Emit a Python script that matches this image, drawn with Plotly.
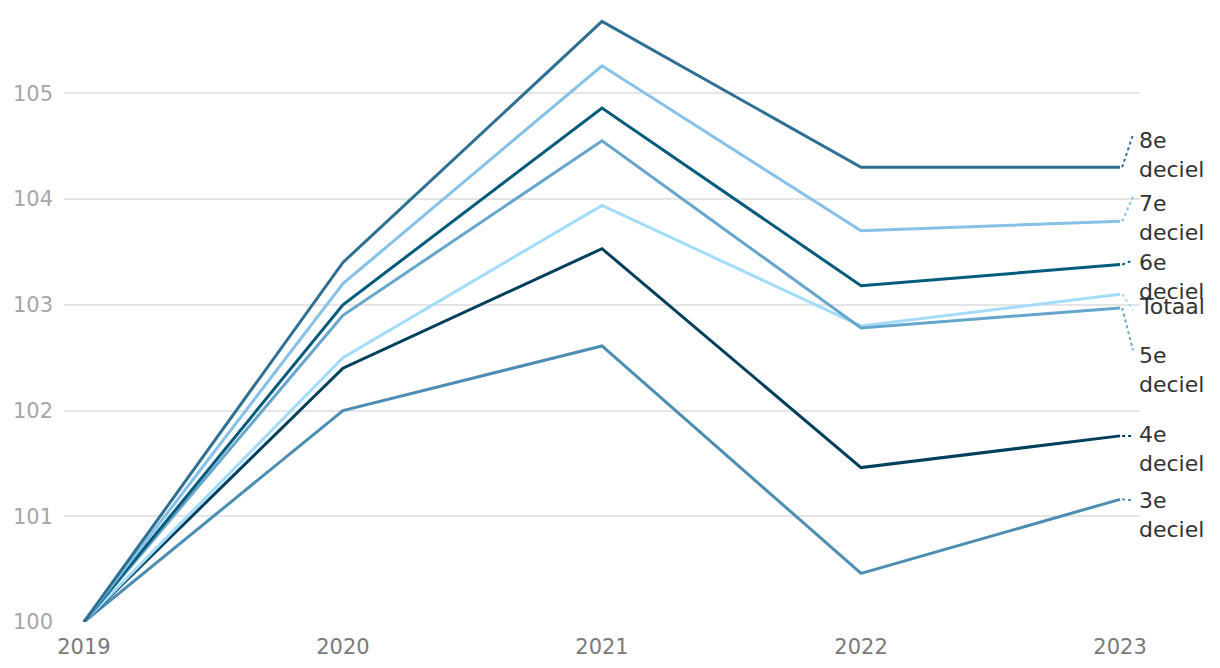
import plotly.graph_objects as go

years = [2019, 2020, 2021, 2022, 2023]

series_names = ["8e deciel", "7e deciel", "6e deciel", "5e deciel", "Totaal", "4e deciel", "3e deciel"]
label_texts = ["8e<br>deciel", "7e<br>deciel", "6e<br>deciel", "5e<br>deciel", "Totaal", "4e<br>deciel", "3e<br>deciel"]

d8 = [100, 103.40, 105.68, 104.30, 104.30]
d7 = [100, 103.20, 105.26, 103.70, 103.79]
d6 = [100, 103.00, 104.86, 103.18, 103.38]
d5 = [100, 102.90, 104.55, 102.78, 102.97]
totaal = [100, 102.50, 103.94, 102.80, 103.10]
d4 = [100, 102.40, 103.53, 101.46, 101.76]
d3 = [100, 102.00, 102.61, 100.46, 101.16]

values = [d8, d7, d6, d5, totaal, d4, d3]
colors = ["#2e7093", "#85c1e9", "#025b7c", "#66a6cd", "#a3dcfb", "#003f5c", "#4b8db3"]

# label anchor (first text line centre) in data units, layout only
label_y = [104.55, 103.96, 103.40, 102.52, 102.98, 101.77, 101.15]
# connector end offsets (layout only)
conn_off = [0.06, 0.06, 0.02, 0.05, -0.03, -0.01, 0.0]

y_ticks = [100, 101, 102, 103, 104, 105]

fig = go.Figure()
draw_order = [6, 5, 4, 3, 2, 1, 0]
for i in draw_order:
    fig.add_trace(go.Scatter(
        x=years, y=values[i], mode="lines", name=series_names[i],
        line=dict(color=colors[i], width=3), hoverinfo="x+y+name",
    ))

FONT = "DejaVu Sans"
fs = 22
for i in range(len(series_names)):
    two = "<br>" in label_texts[i]
    fig.add_annotation(
        x=years[-1], y=label_y[i], xref="x", yref="y",
        text=label_texts[i], showarrow=False, xanchor="left",
        yanchor="middle", align="left", xshift=17,
        yshift=-(fs * 1.3) / 2 if two else 0,
        font=dict(family=FONT, size=fs, color="#333333"),
    )
    fig.add_shape(
        type="line", xref="x", yref="y",
        x0=years[-1] + 0.008, y0=values[i][-1],
        x1=years[-1] + 0.05, y1=label_y[i] + conn_off[i],
        line=dict(color=colors[i], width=2, dash="dot"),
    )

fig.update_layout(
    width=1220, height=668,
    margin=dict(l=56, r=88, t=7, b=54),
    paper_bgcolor="white", plot_bgcolor="white",
    showlegend=False,
    font=dict(family=FONT),
)
fig.update_xaxes(
    range=[2018.923, 2023.077], tickvals=years, ticktext=[str(y) for y in years],
    showgrid=False, zeroline=False, showline=False, ticks="",
    tickfont=dict(family=FONT, size=21, color="#7a7a7a"),
    ticklabelstandoff=10, automargin=False,
)
fig.update_yaxes(
    range=[100, 105.74], tickvals=y_ticks,
    showgrid=True, gridcolor="#e5e5e5", gridwidth=1.5,
    zeroline=False, showline=False, ticks="",
    tickfont=dict(family=FONT, size=21, color="#a6a6a6"),
    ticklabelstandoff=10, automargin=False,
)

fig.write_html("out.html")
